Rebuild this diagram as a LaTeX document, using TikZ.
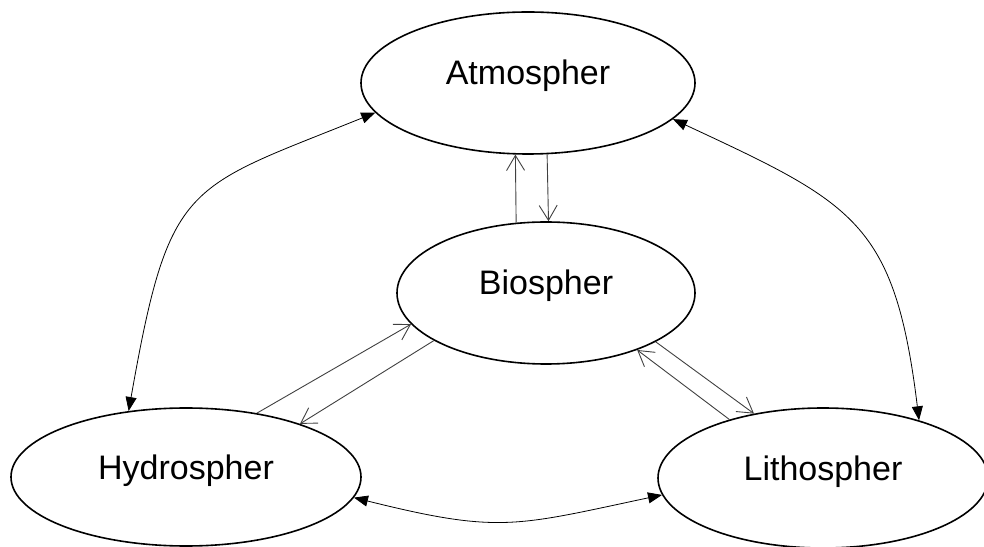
\documentclass[tikz,border=0pt]{standalone}
\usepackage{fontspec}
\setmainfont{Liberation Sans}
\usepackage{tikz}
\usetikzlibrary{arrows.meta,shapes.geometric}

\begin{document}
\begin{tikzpicture}[x=1pt,y=1pt,
  sphere/.style={ellipse,draw,line width=1.6pt,inner sep=0pt,
    text height=4pt,text depth=0pt,font=\fontsize{34}{40}\selectfont},
  cycle/.style={line width=0.8pt,{Triangle[length=14pt,width=11pt]}-{Triangle[length=14pt,width=11pt]}},
  flow/.style={line width=0.9pt,black!75,-{Straight Barb[length=15pt,width=18pt]}}]
  \clip (0,0) rectangle (984,546);
  % Spheres
  \node[sphere,minimum width=334pt,minimum height=142pt] (atmo) at (528,463) {Atmospher};
  \node[sphere,minimum width=298pt,minimum height=142pt] (bio) at (546,253) {Biospher};
  \node[sphere,minimum width=350pt,minimum height=138pt] (hydro) at (186,69) {Hydrospher};
  \node[sphere,minimum width=330pt,minimum height=140pt] (litho) at (823,68) {Lithospher};
  % Outer cycle
  \draw[cycle] (hydro.131) to[out=80,in=202,out distance=235pt,in distance=205pt] (atmo.191);
  \draw[cycle] (atmo.346) to[out=-25,in=97,out distance=200pt,in distance=200pt] (litho.31);
  \draw[cycle] (hydro.-7) to[out=-14,in=192,out distance=150pt,in distance=150pt] (litho.186);
  % Exchange with biosphere
  \draw[flow] (bio.113) -- (atmo.260);
  \draw[flow] (atmo.285) -- (bio.88);
  \draw[flow] (hydro.42) -- (bio.193);
  \draw[flow] (bio.203) -- (hydro.25);
  \draw[flow] (litho.148) -- (bio.328);
  \draw[flow] (bio.336) -- (litho.137);
\end{tikzpicture}
\end{document}
